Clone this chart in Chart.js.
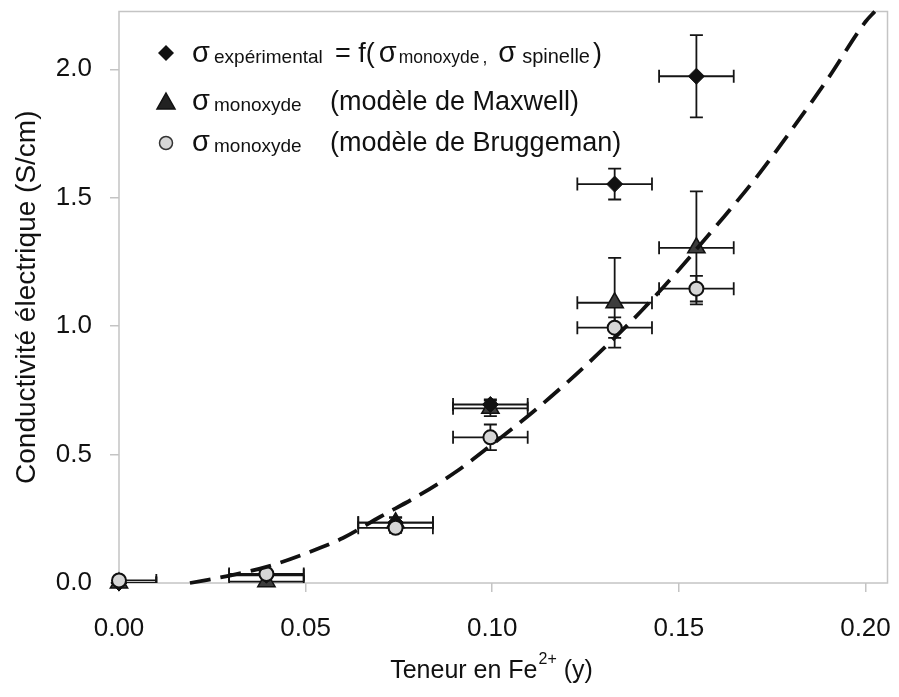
<!DOCTYPE html>
<html>
<head>
<meta charset="utf-8">
<script src="https://cdn.jsdelivr.net/npm/chart.js@4.4.0/dist/chart.umd.min.js"></script>
<style>
html, body { margin: 0; padding: 0; background: #fff; }
#wrap { width: 899px; height: 697px; position: relative; }
</style>
</head>
<body>
<div id="wrap"><canvas id="graf"></canvas></div>
<script>
// teneur en Fe2+ (y) et conductivités
const teneur = [0.0, 0.0395, 0.0741, 0.0995, 0.1328, 0.1547];
const teneurErr = [0.01, 0.01, 0.01, 0.01, 0.01, 0.01];
const sigmaExp = [0.0, 0.03, 0.235, 0.695, 1.553, 1.973];
const sigmaExpErr = [0, 0, 0.02, 0.02, 0.06, 0.16];
const sigmaMaxwell = [0.0, 0.005, 0.235, 0.68, 1.091, 1.305];
const sigmaMaxwellErr = [0, 0, 0.02, 0.03, 0.175, 0.22];
const sigmaBrugg = [0.01, 0.035, 0.215, 0.567, 0.994, 1.146];
const sigmaBruggErr = [0, 0.01, 0.02, 0.05, 0.04, 0.05];

// courbe en tirets
const courbeX = [0.019, 0.03, 0.04, 0.05, 0.06, 0.07, 0.08, 0.09, 0.10, 0.11, 0.12, 0.13, 0.14, 0.15, 0.16, 0.17, 0.18, 0.19, 0.20, 0.2025];
const courbeY = [0.0, 0.03, 0.065, 0.115, 0.175, 0.258, 0.338, 0.43, 0.54, 0.655, 0.78, 0.915, 1.06, 1.22, 1.39, 1.565, 1.76, 1.965, 2.185, 2.225];

const xTicks = [0, 0.05, 0.10, 0.15, 0.20];
const yTicks = [0, 0.5, 1.0, 1.5, 2.0];

const FONT = '"Liberation Sans", Arial, Helvetica, sans-serif';
const pts = (xs, ys) => xs.map((x, i) => ({ x: x, y: ys[i] }));

const errorBars = {
    id: 'errorBars',
    beforeDatasetsDraw(chart) {
        const { ctx, chartArea, scales: { x, y } } = chart;
        ctx.save();
        // cadre gris
        ctx.strokeStyle = '#c4c4c4';
        ctx.lineWidth = 1.5;
        ctx.strokeRect(chartArea.left, chartArea.top, chartArea.width, chartArea.height);
        ctx.beginPath();
        ctx.rect(chartArea.left, chartArea.top, chartArea.width, chartArea.height);
        ctx.clip();
        ctx.strokeStyle = '#151515';
        ctx.lineWidth = 1.8;
        const cap = 6.5;
        chart.data.datasets.forEach(ds => {
            if (!ds.errY) return;
            ds.data.forEach((p, i) => {
                const px = x.getPixelForValue(p.x);
                const py = y.getPixelForValue(p.y);
                const ex = ds.errX[i], ey = ds.errY[i];
                ctx.beginPath();
                if (ex) {
                    const x0 = x.getPixelForValue(p.x - ex);
                    const x1 = x.getPixelForValue(p.x + ex);
                    ctx.moveTo(x0, py); ctx.lineTo(x1, py);
                    ctx.moveTo(x0, py - cap); ctx.lineTo(x0, py + cap);
                    ctx.moveTo(x1, py - cap); ctx.lineTo(x1, py + cap);
                }
                if (ey) {
                    const y0 = y.getPixelForValue(p.y - ey);
                    const y1 = y.getPixelForValue(p.y + ey);
                    ctx.moveTo(px, y0); ctx.lineTo(px, y1);
                    ctx.moveTo(px - cap, y0); ctx.lineTo(px + cap, y0);
                    ctx.moveTo(px - cap, y1); ctx.lineTo(px + cap, y1);
                }
                ctx.stroke();
            });
        });
        ctx.restore();
    }
};

const legende = {
    id: 'legende',
    afterDraw(chart) {
        const ctx = chart.ctx;
        ctx.save();
        ctx.fillStyle = '#111';
        ctx.textBaseline = 'alphabetic';
        const big = '27px ' + FONT, sig = '29px ' + FONT, sub = '19px ' + FONT, sub1 = '17.5px ' + FONT;
        const put = (txt, font, x, y) => { ctx.font = font; ctx.fillText(txt, x, y); return x + ctx.measureText(txt).width; };

        // symboles
        ctx.lineWidth = 1.5;
        ctx.strokeStyle = '#111';
        ctx.beginPath();
        ctx.moveTo(166, 45); ctx.lineTo(174, 53); ctx.lineTo(166, 61); ctx.lineTo(158, 53); ctx.closePath();
        ctx.fill();
        ctx.beginPath();
        ctx.moveTo(166, 93); ctx.lineTo(175, 109); ctx.lineTo(157, 109); ctx.closePath();
        ctx.fillStyle = '#222'; ctx.fill(); ctx.stroke();
        ctx.beginPath();
        ctx.arc(166, 143, 6.5, 0, Math.PI * 2);
        ctx.fillStyle = '#d6d6d6'; ctx.fill();
        ctx.strokeStyle = '#333'; ctx.stroke();
        ctx.fillStyle = '#111';

        // ligne 1
        put('σ', sig, 192, 62);
        put('expérimental', sub, 214, 63);
        let x = put('= f(', big, 335, 62);
        x = put('σ', sig, x + 4, 62);
        x = put('monoxyde', sub1, x + 2, 63);
        x = put(',', sub1, x + 3, 63);
        x = put('σ', sig, x + 11, 62);
        x = put('spinelle', '20px ' + FONT, x + 6, 63);
        put(')', big, x + 3, 62);

        // ligne 2
        put('σ', sig, 192, 110);
        put('monoxyde', sub, 214, 111);
        put('(modèle de Maxwell)', big, 330, 110);

        // ligne 3
        put('σ', sig, 192, 151);
        put('monoxyde', sub, 214, 152);
        put('(modèle de Bruggeman)', big, 330, 151);

        // titre de l'axe x avec exposant
        const t1 = 'Teneur en Fe', t2 = '2+', t3 = ' (y)';
        ctx.font = '25px ' + FONT; const w1 = ctx.measureText(t1).width, w3 = ctx.measureText(t3).width;
        ctx.font = '16px ' + FONT; const w2 = ctx.measureText(t2).width;
        let tx = 491 - (w1 + w2 + w3) / 2;
        tx = put(t1, '25px ' + FONT, tx, 678);
        tx = put(t2, '16px ' + FONT, tx + 1, 664);
        put(t3, '25px ' + FONT, tx, 678);
        ctx.restore();
    }
};

const ctx = document.getElementById('graf').getContext('2d');
new Chart(ctx, {
    type: 'scatter',
    data: {
        datasets: [
            {
                label: 'courbe',
                type: 'line',
                data: pts(courbeX, courbeY),
                borderColor: '#111',
                borderWidth: 3.8,
                borderDash: [21, 10],
                pointRadius: 0,
                fill: false,
                cubicInterpolationMode: 'monotone',
                clip: false,
                order: 0
            },
            {
                label: 'σ monoxyde (modèle de Bruggeman)',
                data: pts(teneur, sigmaBrugg),
                errX: teneurErr, errY: sigmaBruggErr,
                pointStyle: 'circle',
                pointRadius: 7,
                backgroundColor: '#d6d6d6',
                borderColor: '#111',
                borderWidth: 2,
                clip: false,
                order: 1
            },
            {
                label: 'σ expérimental',
                data: pts(teneur, sigmaExp),
                errX: teneurErr, errY: sigmaExpErr,
                pointStyle: 'rectRot',
                pointRadius: 8,
                backgroundColor: '#111',
                borderColor: '#111',
                borderWidth: 1,
                clip: false,
                order: 2
            },
            {
                label: 'σ monoxyde (modèle de Maxwell)',
                data: pts(teneur, sigmaMaxwell),
                errX: teneurErr, errY: sigmaMaxwellErr,
                pointStyle: 'triangle',
                pointRadius: 10,
                backgroundColor: '#3c3c3c',
                borderColor: '#111',
                borderWidth: 1.5,
                clip: false,
                order: 3
            }
        ]
    },
    options: {
        responsive: true,
        maintainAspectRatio: false,
        animation: false,
        layout: { padding: { top: 10, right: 9, left: 0, bottom: 0 } },
        scales: {
            x: {
                type: 'linear',
                min: 0,
                max: 0.2059,
                border: { display: false },
                grid: { drawOnChartArea: false, drawTicks: true, tickLength: 9, color: '#c4c4c4', lineWidth: 1.5 },
                afterBuildTicks: s => { s.ticks = xTicks.map(v => ({ value: v })); },
                afterFit: s => { s.height = 114; s.paddingLeft = 0; s.paddingRight = 0; },
                ticks: {
                    padding: 21,
                    color: '#111',
                    font: { size: 26, family: FONT },
                    callback: v => v.toFixed(2)
                }
            },
            y: {
                min: 0,
                max: 2.225,
                border: { display: false },
                grid: { drawOnChartArea: false, drawTicks: true, tickLength: 9, color: '#c4c4c4', lineWidth: 1.5 },
                afterBuildTicks: s => { s.ticks = yTicks.map(v => ({ value: v })); },
                afterFit: s => { s.width = 119; s.paddingTop = 0; s.paddingBottom = 0; },
                title: {
                    display: true,
                    text: 'Conductivité électrique (S/cm)',
                    color: '#111',
                    font: { size: 28, family: FONT },
                    padding: { top: 10, bottom: 0 }
                },
                ticks: {
                    padding: 18,
                    color: '#111',
                    font: { size: 26, family: FONT },
                    callback: v => v.toFixed(1)
                }
            }
        },
        plugins: {
            legend: { display: false },
            tooltip: { enabled: false }
        }
    },
    plugins: [errorBars, legende]
});
</script>
</body>
</html>
